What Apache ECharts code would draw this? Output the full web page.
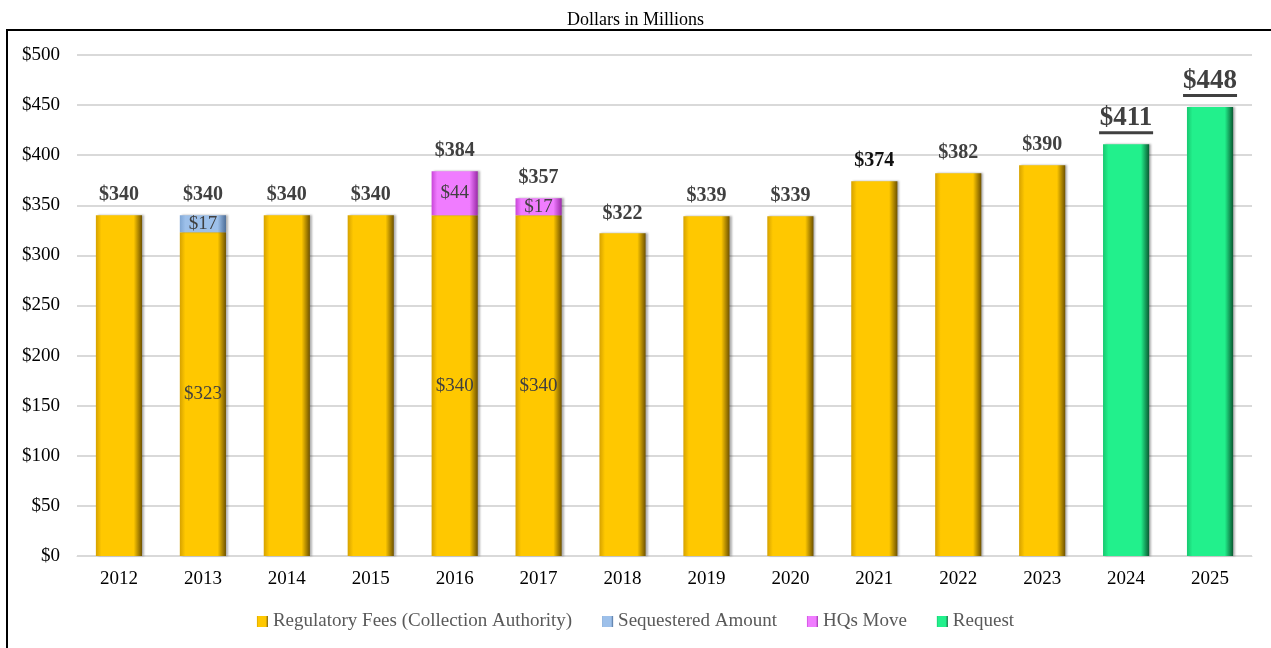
<!DOCTYPE html>
<html>
<head>
<meta charset="utf-8">
<script src="https://cdn.jsdelivr.net/npm/echarts@6/dist/echarts.min.js"></script>
<style>
  html, body { margin: 0; padding: 0; background: #fff; }
  #chart { width: 1271px; height: 648px; }
</style>
</head>
<body>
<div id="chart"></div>
<script>
const years = ['2012', '2013', '2014', '2015', '2016', '2017', '2018', '2019', '2020', '2021', '2022', '2023', '2024', '2025']
const regulatoryFees = [340, 323, 340, 340, 340, 340, 322, 339, 339, 374, 382, 390, null, null]
const sequestered = [null, 17, null, null, null, null, null, null, null, null, null, null, null, null]
const hqsMove = [null, null, null, null, 44, 17, null, null, null, null, null, null, null, null]
const request = [null, null, null, null, null, null, null, null, null, null, null, null, 411, 448]
// years whose fee segment carries its own inside label
const innerLabelYears = ['2013', '2016', '2017']

const totals = years.map((y, i) =>
  (regulatoryFees[i] || 0) + (sequestered[i] || 0) + (hqsMove[i] || 0) + (request[i] || 0))

const font = '"Liberation Serif", "Times New Roman", serif'

function barGrad(edgeL, mid, edgeR) {
  return new echarts.graphic.LinearGradient(0, 0, 1, 0, [
    { offset: 0, color: edgeL },
    { offset: 0.12, color: mid },
    { offset: 0.82, color: mid },
    { offset: 1, color: edgeR }
  ])
}

const gold = barGrad('#D6A200', '#FFC800', '#6E5200')
const blue = barGrad('#7FA6D4', '#9DC0EA', '#4D6E98')
const pink = barGrad('#C846D8', '#F07CFF', '#9A2AA8')
const green = barGrad('#18C870', '#22F08C', '#0A5A32')

const innerLabel = {
  show: true,
  position: 'inside',
  formatter: '${c}',
  fontFamily: font,
  fontSize: 19,
  color: '#404040'
}

const shadow = { shadowColor: 'rgba(0,0,0,0.3)', shadowOffsetX: 2, shadowBlur: 2 }

const myChart = echarts.init(document.getElementById('chart'))
myChart.setOption({
  animation: false,
  title: {
    text: 'Dollars in Millions',
    left: 'center',
    top: 6,
    textStyle: { fontFamily: font, fontSize: 18, fontWeight: 'normal', color: '#000' }
  },
  graphic: [{
    type: 'rect',
    shape: { x: 7, y: 30, width: 1300, height: 700 },
    style: { fill: 'none', stroke: '#000', lineWidth: 2 },
    silent: true,
    z: -1
  }],
  legend: {
    data: ['Regulatory Fees (Collection Authority)', 'Sequestered Amount', 'HQs Move', 'Request'],
    bottom: 12,
    left: 'center',
    icon: 'rect',
    itemWidth: 11,
    itemHeight: 11,
    itemGap: 30,
    textStyle: { fontFamily: font, fontSize: 19, color: '#595959' }
  },
  grid: { left: 77, right: 19, top: 55, bottom: 92 },
  xAxis: {
    type: 'category',
    data: years,
    axisTick: { show: false },
    axisLine: { lineStyle: { color: '#d9d9d9' } },
    axisLabel: { fontFamily: font, fontSize: 19, color: '#000', margin: 14 }
  },
  yAxis: {
    type: 'value',
    min: 0,
    max: 500,
    interval: 50,
    axisLabel: { fontFamily: font, fontSize: 19, color: '#000', formatter: '${value}', margin: 17 },
    splitLine: { lineStyle: { color: '#d9d9d9', width: 2 } }
  },
  series: [
    {
      name: 'Regulatory Fees (Collection Authority)',
      type: 'bar',
      stack: 'total',
      barWidth: '55%',
      itemStyle: Object.assign({ color: gold }, shadow),
      data: regulatoryFees.map((v, i) => ({
        value: v,
        label: innerLabelYears.includes(years[i]) ? innerLabel : { show: false }
      }))
    },
    {
      name: 'Sequestered Amount',
      type: 'bar',
      stack: 'total',
      itemStyle: Object.assign({ color: blue }, shadow),
      label: innerLabel,
      data: sequestered
    },
    {
      name: 'HQs Move',
      type: 'bar',
      stack: 'total',
      itemStyle: Object.assign({ color: pink }, shadow),
      label: innerLabel,
      data: hqsMove
    },
    {
      name: 'Request',
      type: 'bar',
      stack: 'total',
      itemStyle: Object.assign({ color: green }, shadow),
      data: request
    },
    {
      name: 'Total',
      type: 'bar',
      stack: 'total',
      data: years.map(() => 0),
      itemStyle: { color: 'transparent' },
      label: {
        show: true,
        position: 'top',
        distance: 10,
        formatter: p => {
          const v = totals[p.dataIndex]
          if (request[p.dataIndex] != null) return '{big|$' + v + '}\n{u|}'
          if (years[p.dataIndex] === '2021') return '{dark|$' + v + '}'
          return '{norm|$' + v + '}'
        },
        rich: {
          norm: { fontFamily: font, fontSize: 20, fontWeight: 'bold', color: '#404040' },
          dark: { fontFamily: font, fontSize: 20, fontWeight: 'bold', color: '#111' },
          big: { fontFamily: font, fontSize: 27, fontWeight: 'bold', color: '#404040', lineHeight: 27 },
          u: { width: 54, height: 3, backgroundColor: '#404040' }
        }
      }
    }
  ]
})
</script>
</body>
</html>
